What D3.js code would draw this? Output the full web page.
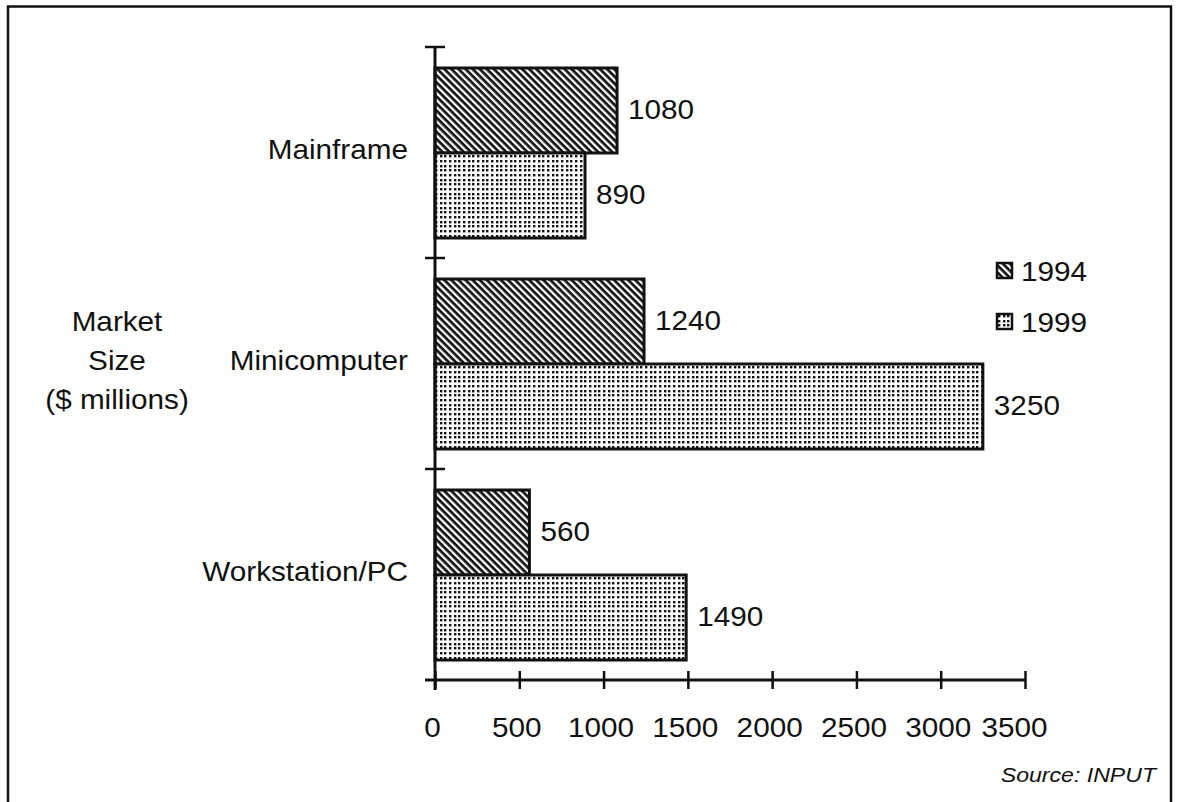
<!DOCTYPE html>
<html>
<head>
<meta charset="utf-8">
<script src="https://cdn.jsdelivr.net/npm/d3@7"></script>
<style>
  html, body { margin: 0; padding: 0; background: #ffffff; }
  svg { display: block; }
  text { font-family: "Liberation Sans", Arial, Helvetica, sans-serif; fill: #111; }
</style>
</head>
<body>
<svg id="chart" width="1179" height="802"></svg>
<script>
// Market size by platform, $ millions
const categories = ["Mainframe", "Minicomputer", "Workstation/PC"];
const years = ["1994", "1999"];
const values1994 = [1080, 1240, 560];
const values1999 = [890, 3250, 1490];
const xTicks = [0, 500, 1000, 1500, 2000, 2500, 3000, 3500];
const axisTitle = ["Market", "Size", "($ millions)"];
const sourceNote = "Source: INPUT";

const seriesValues = { "1994": values1994, "1999": values1999 };

const svg = d3.select("#chart");
const FONT = 27;      // label size
const STRETCH = 1.1;  // labels are set slightly wide

// place a text element at (x, y) with the wide setting
function place(sel, fx, fy) {
  return sel.attr("x", 0).attr("y", 0)
    .attr("transform", (d, i) => `translate(${fx(d, i)},${fy(d, i)}) scale(${STRETCH},1)`);
}

// fills: diagonal hatch for 1994, dot screen for 1999
const defs = svg.append("defs");
const hatch = defs.append("pattern")
  .attr("id", "hatch").attr("patternUnits", "userSpaceOnUse")
  .attr("width", 10).attr("height", 5)
  .attr("patternTransform", "rotate(45)");
hatch.append("rect").attr("width", 10).attr("height", 5).attr("fill", "#fff");
hatch.append("rect").attr("width", 10).attr("height", 2.7).attr("fill", "#111");

const dots = defs.append("pattern")
  .attr("id", "dots").attr("patternUnits", "userSpaceOnUse")
  .attr("width", 14).attr("height", 14);
dots.append("rect").attr("width", 14).attr("height", 14).attr("fill", "#fff");
const dotPos = [1, 6, 10];
dotPos.forEach(px => dotPos.forEach(py => {
  dots.append("rect").attr("x", px).attr("y", py).attr("width", 2.4).attr("height", 2.4).attr("fill", "#111");
}));

const fills = { "1994": "url(#hatch)", "1999": "url(#dots)" };

// outer frame
svg.append("rect")
  .attr("x", 8).attr("y", 6.5).attr("width", 1163).attr("height", 820)
  .attr("fill", "none").attr("stroke", "#111").attr("stroke-width", 2.5);

// scales
const x = d3.scaleLinear().domain([0, 3500]).range([435, 1025]);
const y = d3.scaleBand().domain(categories).range([47, 680]).padding(0);
const ySub = d3.scaleBand().domain(years).range([21, y.bandwidth() - 20]).padding(0);

// bars
const groups = svg.append("g").selectAll("g")
  .data(categories)
  .join("g")
  .attr("transform", d => `translate(0,${y(d)})`);

const rows = (c, i) => years.map(yr => ({ yr, v: seriesValues[yr][i] }));

groups.selectAll("rect")
  .data(rows)
  .join("rect")
  .attr("x", x(0))
  .attr("y", d => ySub(d.yr))
  .attr("width", d => x(d.v) - x(0))
  .attr("height", ySub.bandwidth())
  .attr("fill", d => fills[d.yr])
  .attr("stroke", "#111")
  .attr("stroke-width", 3);

// value labels
groups.selectAll("text.val")
  .data(rows)
  .join("text")
  .attr("class", "val")
  .attr("dy", "0.35em")
  .attr("font-size", FONT)
  .call(place, d => x(d.v) + 11, d => ySub(d.yr) + ySub.bandwidth() / 2 - 1)
  .text(d => d.v);

// category labels
svg.append("g").selectAll("text")
  .data(categories)
  .join("text")
  .attr("dy", "0.35em")
  .attr("text-anchor", "end")
  .attr("font-size", FONT)
  .call(place, () => 408, d => y(d) + y.bandwidth() / 2 - 3)
  .text(d => d);

// x axis
const xAxis = d3.axisBottom(x).tickValues(xTicks).tickSize(0).tickFormat(d => d);
const gx = svg.append("g").attr("transform", "translate(0,680)").call(xAxis);
gx.select(".domain").remove();
gx.selectAll(".tick text").remove();
svg.append("line")
  .attr("x1", x(0) - 10).attr("x2", x(3500)).attr("y1", 680).attr("y2", 680)
  .attr("stroke", "#111").attr("stroke-width", 3);
gx.selectAll(".tick").append("line")
  .attr("y1", -9).attr("y2", 9)
  .attr("stroke", "#111").attr("stroke-width", 2.5);
gx.selectAll(".tick").append("text")
  .attr("dy", "0.35em")
  .attr("text-anchor", "middle")
  .attr("font-size", FONT)
  .attr("fill", "#111")
  .call(place, d => (d === 3500 ? -11 : -3), () => 48)
  .text(d => d);

// y axis
svg.append("line")
  .attr("x1", x(0)).attr("x2", x(0)).attr("y1", 46).attr("y2", 690)
  .attr("stroke", "#111").attr("stroke-width", 3);
svg.append("g").selectAll("line")
  .data(categories)
  .join("line")
  .attr("x1", x(0) - 10).attr("x2", x(0) + 10)
  .attr("y1", d => y(d)).attr("y2", d => y(d))
  .attr("stroke", "#111").attr("stroke-width", 2.5);

// axis title
svg.append("g").selectAll("text")
  .data(axisTitle)
  .join("text")
  .attr("dy", "0.35em")
  .attr("text-anchor", "middle")
  .attr("font-size", FONT)
  .call(place, () => 117, (d, i) => 322 + i * 39)
  .text(d => d);

// legend
const legend = svg.append("g").selectAll("g")
  .data(years)
  .join("g")
  .attr("transform", (d, i) => `translate(997,${263 + i * 51})`);
legend.append("rect")
  .attr("width", 15).attr("height", 15)
  .attr("fill", d => fills[d])
  .attr("stroke", "#111").attr("stroke-width", 2.5);
legend.append("text")
  .attr("dy", "0.35em")
  .attr("font-size", FONT)
  .call(place, () => 24, () => 8.5)
  .text(d => d);

// source note
svg.append("text")
  .attr("dy", "0.35em")
  .attr("text-anchor", "end")
  .attr("font-size", 21)
  .attr("font-style", "italic")
  .call(place, () => 1156, () => 775)
  .text(sourceNote);
</script>
</body>
</html>
